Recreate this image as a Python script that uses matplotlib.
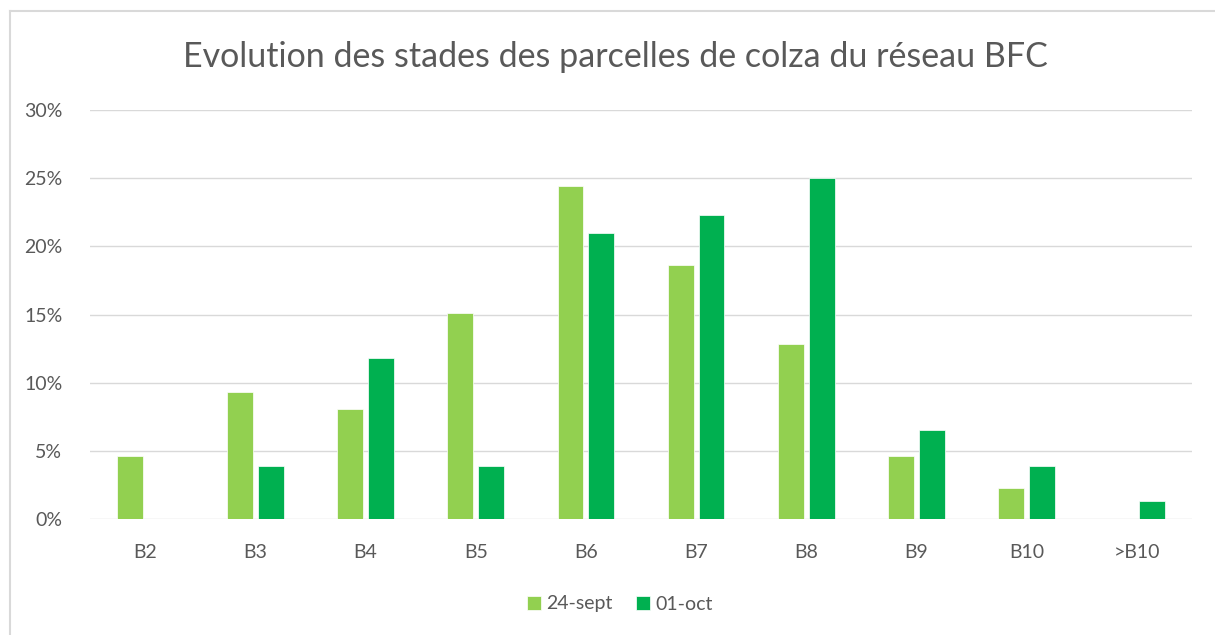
import numpy as np
import matplotlib
matplotlib.use('Agg')
import matplotlib.pyplot as plt
from matplotlib.lines import Line2D

stages = ['B2', 'B3', 'B4', 'B5', 'B6', 'B7', 'B8', 'B9', 'B10', '>B10']
sept24 = [4.65, 9.3, 8.1, 15.1, 24.4, 18.6, 12.8, 4.65, 2.3, 0.0]
oct01 = [0.0, 3.9, 11.8, 3.9, 21.0, 22.3, 25.0, 6.5, 3.9, 1.3]
series_labels = ['24-sept', '01-oct']
yticks = [0, 5, 10, 15, 20, 25, 30]

LIGHT = '#92D050'
DARK = '#00B050'
TXT = '#595959'

plt.rcParams['font.family'] = ['Lato', 'DejaVu Sans']

fig = plt.figure(figsize=(12.15, 6.35), dpi=100)
ax = fig.add_axes([90 / 1215, 1 - 519 / 635, 1102 / 1215, 409 / 635])

x = np.arange(len(stages))
w = 0.235
ax.bar(x - 0.14, sept24, w, color=LIGHT, label=series_labels[0], edgecolor='white', linewidth=0.5)
ax.bar(x + 0.14, oct01, w, color=DARK, label=series_labels[1], edgecolor='white', linewidth=0.5)

ax.set_xlim(-0.5, len(stages) - 0.5)
ax.set_ylim(0, 30)
ax.set_yticks(yticks)
ax.set_yticklabels([f'{v}%' for v in yticks])
ax.set_xticks(x)
ax.set_xticklabels(stages)
ax.grid(axis='y', color='#D9D9D9', linewidth=1)
ax.set_axisbelow(True)
for s in ax.spines.values():
    s.set_visible(False)
ax.tick_params(length=0, labelsize=14, colors=TXT)
ax.tick_params(axis='x', pad=18)
ax.tick_params(axis='y', pad=20)

fig.text(615 / 1215, 1 - 57 / 635, 'Evolution des stades des parcelles de colza du réseau BFC',
         ha='center', va='center', fontsize=24.5, color=TXT)

leg = fig.legend(loc='center', bbox_to_anchor=(620 / 1215, 1 - 604 / 635), ncol=2, frameon=False,
                 fontsize=14, handlelength=0.7, handleheight=0.7, handletextpad=0.3, columnspacing=1.2)
for t in leg.get_texts():
    t.set_color(TXT)

# chart frame (left and top edges visible)
fig.add_artist(Line2D([9.5 / 1215, 9.5 / 1215], [0, 1 - 11 / 635], color='#D9D9D9', linewidth=1.5))
fig.add_artist(Line2D([9.5 / 1215, 1], [1 - 11 / 635, 1 - 11 / 635], color='#D9D9D9', linewidth=1.5))

fig.savefig('out.png', dpi=100)
